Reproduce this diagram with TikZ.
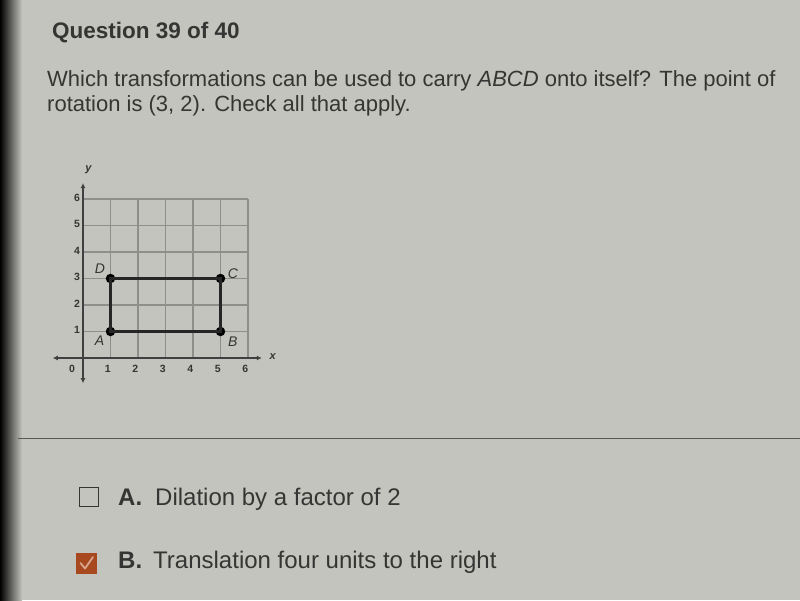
\documentclass[tikz,border=0pt]{standalone}
\usepackage{fontspec}
\setmainfont{Liberation Sans}
\usetikzlibrary{arrows.meta}
\definecolor{bg}{HTML}{C4C4BE}
\definecolor{ink}{HTML}{353533}
\definecolor{gridc}{HTML}{8E8E8A}
\definecolor{axisc}{HTML}{404040}
\definecolor{chk}{HTML}{A8481F}
\definecolor{chkmark}{HTML}{D8A68E}
\begin{document}
\begin{tikzpicture}[x=1pt,y=-1pt,
  txt/.style={anchor=base west, inner sep=0pt, text=ink, font=\fontsize{22}{26}\selectfont},
  ttl/.style={anchor=base west, inner sep=0pt, text=ink, font=\bfseries\fontsize{22.5}{26}\selectfont},
  ans/.style={anchor=base west, inner sep=0pt, text=ink, font=\fontsize{24}{28}\selectfont},
  tick/.style={inner sep=0pt, text=ink, font=\bfseries\fontsize{10.5}{12}\selectfont},
  vlabel/.style={inner sep=0pt, text=ink, font=\itshape\fontsize{14}{16}\selectfont},
  axlabel/.style={inner sep=0pt, text=ink, font=\itshape\bfseries\fontsize{11}{12}\selectfont},
  gridline/.style={gridc, line width=1.4pt},
  axisline/.style={axisc, line width=2pt, {Latex[length=5pt,width=5pt]}-{Latex[length=5pt,width=5pt]}},
  side/.style={black!85, line width=3pt},
  vdot/.style={circle, fill=black, inner sep=0pt, minimum size=9.5pt}]
\useasboundingbox (0,0) rectangle (800,600);
\fill[bg] (0,0) rectangle (800,600);
\shade[left color=black, right color=bg] (0,0) rectangle (22,600);
\draw[gray!70!black, line width=1pt] (18,438) -- (800,438);

% texts
\node[ttl] (title) at (52,38) {Question 39 of 40};
\node[txt] (q1) at (47,86) {Which transformations can be used to carry \textit{ABCD} onto itself? The point of};
\node[txt] (q2) at (47,111) {rotation is (3, 2). Check all that apply.};

% graph
\begin{scope}[xshift=83pt, yshift=-358pt, x=27.5pt, y=26.5pt]
  \foreach \i in {1,...,6} {
    \draw[gridline] (\i,0) -- (\i,6);
    \draw[gridline] (0,\i) -- (6,\i);
  }
  \coordinate (xl) at (-1.1,0);
  \coordinate (xr) at (6.5,0);
  \coordinate (yb) at (0,-0.95);
  \coordinate (yt) at (0,6.6);
  \draw[axisline] (xl) -- (xr);
  \draw[axisline] (yb) -- (yt);
  \node[axlabel] (xlab) at (6.9,0.05) {x};
  \node[axlabel] (ylab) at (0.2,7.1) {y};
  \node[tick] (o) at (-0.4,-0.42) {0};
  \foreach \i in {1,...,6} {
    \node[tick] (xt\i) at (\i-0.1,-0.42) {\i};
    \node[tick] (yt\i) at (-0.22,\i+0.05) {\i};
  }
  \node[vdot] (A) at (1,1) {};
  \node[vdot] (B) at (5,1) {};
  \node[vdot] (C) at (5,3) {};
  \node[vdot] (D) at (1,3) {};
  \draw[side] (A.center) -- (B.center) -- (C.center) -- (D.center) -- cycle;
  \node[vlabel] (la) at (0.6,0.65) {A};
  \node[vlabel] (lb) at (5.45,0.63) {B};
  \node[vlabel] (lc) at (5.45,3.2) {C};
  \node[vlabel] (ld) at (0.62,3.38) {D};
\end{scope}

% answers
\node[draw=ink, line width=1.8pt, minimum size=19pt, inner sep=0pt] (boxa) at (89,497) {};
\node[ans] (lettera) at (118,505) {\textbf{A.}};
\node[ans] (ansa) at (155,505) {Dilation by a factor of 2};
\node[fill=chk, minimum size=21pt, inner sep=0pt] (boxb) at (86.5,563) {};
\coordinate (c1) at (80.5,563);
\coordinate (c2) at (85,568.5);
\coordinate (c3) at (93,557);
\draw[chkmark, line width=1.8pt, line cap=round, line join=round] (c1) -- (c2) -- (c3);
\node[ans] (letterb) at (118,568) {\textbf{B.}};
\node[ans] (ansb) at (153,568) {Translation four units to the right};
\end{tikzpicture}
\end{document}
